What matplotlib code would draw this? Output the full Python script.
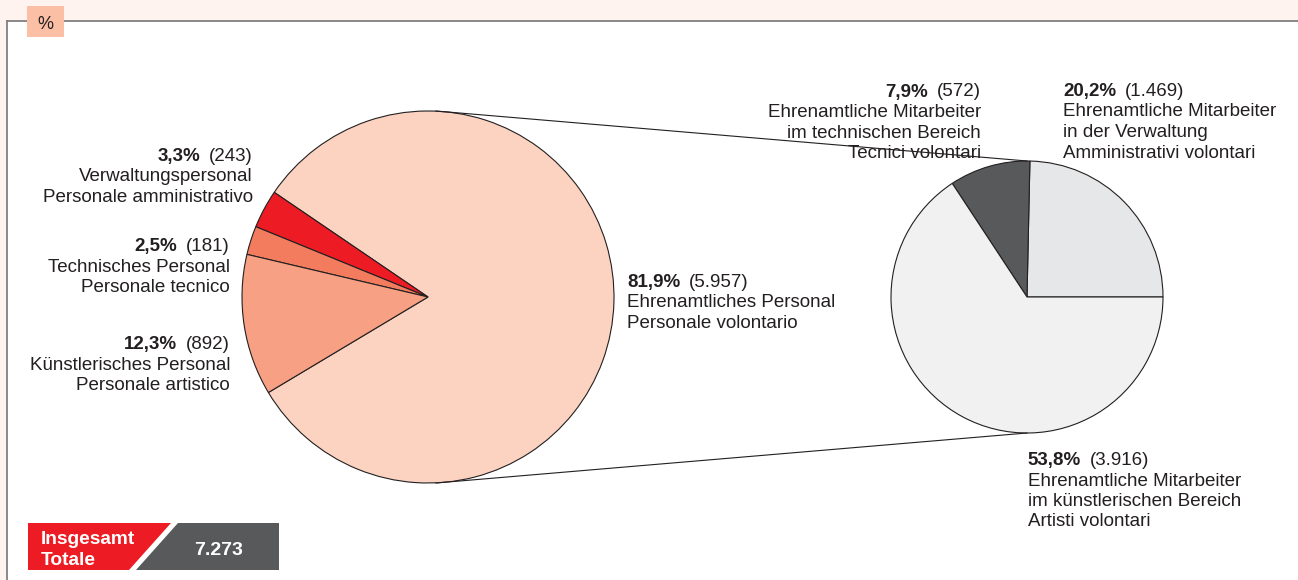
import matplotlib
matplotlib.use("Agg")
import matplotlib.pyplot as plt
from matplotlib.patches import Rectangle, Polygon
from matplotlib.lines import Line2D

plt.rcParams['font.family'] = ['Liberation Sans', 'DejaVu Sans']

# ---------------- data ----------------
staff_categories = ["Ehrenamtliches Personal", "Verwaltungspersonal",
                    "Technisches Personal", "Künstlerisches Personal"]
staff_categories_it = ["Personale volontario", "Personale amministrativo",
                       "Personale tecnico", "Personale artistico"]
staff_counts = [5957, 243, 181, 892]
staff_pct = ["81,9%", "3,3%", "2,5%", "12,3%"]
staff_colors = ["#fcd3c1", "#ed1c24", "#f37b5e", "#f7a083"]

volunteer_categories = ["Ehrenamtliche Mitarbeiter\nin der Verwaltung",
                        "Ehrenamtliche Mitarbeiter\nim technischen Bereich",
                        "Ehrenamtliche Mitarbeiter\nim künstlerischen Bereich"]
volunteer_categories_it = ["Amministrativi volontari", "Tecnici volontari",
                           "Artisti volontari"]
volunteer_counts = [1469, 572, 3916]
volunteer_pct = ["20,2%", "7,9%", "53,8%"]
volunteer_colors = ["#e6e7e8", "#58595b", "#f1f1f2"]

total_label = "Insgesamt\nTotale"
total_value = "7.273"
unit_label = "%"

# ---------------- layout ----------------
W, H = 1298, 580
TXT = "#231f20"
fig = plt.figure(figsize=(W / 100, H / 100), dpi=100, facecolor="white")
ax = fig.add_axes([0, 0, 1, 1])


def Y(p):
    return H - p


def fmt(n):
    return format(n, ",").replace(",", ".")


# background band + frame
BG = "#fef3ee"
ax.add_patch(Rectangle((0, Y(20.5)), W, 20.5, color=BG, zorder=0, lw=0))
ax.add_patch(Rectangle((0, 0), 7, Y(20.5), color=BG, zorder=0, lw=0))
ax.add_line(Line2D([7, W], [Y(20.5), Y(20.5)], color="#808082", lw=1.3, zorder=1))
ax.add_line(Line2D([7, 7], [Y(20.5), 0], color="#808082", lw=1.3, zorder=1))
ax.add_patch(Rectangle((27, Y(37)), 37, 31, color="#fbbfa6", lw=0, zorder=2))
ax.text(45.5, Y(29), unit_label, ha="center", va="baseline", fontsize=13, color=TXT, zorder=3)

# pies
C1, R1 = (428, Y(297)), 186
C2, R2 = (1027, Y(297)), 136
wp = dict(edgecolor=TXT, linewidth=0.8)
ax.pie(staff_counts, colors=staff_colors, startangle=-149.1, counterclock=True,
       center=C1, radius=R1, wedgeprops=wp, frame=True)
ax.pie(volunteer_counts, colors=volunteer_colors, startangle=0, counterclock=True,
       center=C2, radius=R2, wedgeprops=wp, frame=True)
ax.set_aspect("auto")
ax.set_xlim(0, W)
ax.set_ylim(0, H)
ax.axis("off")

# connector lines
ax.add_line(Line2D([C1[0] + 8, C2[0]], [C1[1] + R1, C2[1] + R2], color=TXT, lw=0.8, zorder=5))
ax.add_line(Line2D([C1[0] + 8, C2[0]], [C1[1] - R1, C2[1] - R2], color=TXT, lw=0.8, zorder=5))

FS = 13.5
LS = 20.5


def label(x, base, ha, pct, cnt, lines):
    if ha == "left":
        b = ax.text(x, Y(base), pct, ha="left", va="baseline", fontsize=FS,
                    fontweight="bold", color=TXT, zorder=4)
        ax.annotate("(" + fmt(cnt) + ")", xy=(1, 0), xycoords=b, xytext=(9, 0),
                    textcoords="offset pixels", ha="left", va="bottom",
                    fontsize=FS, color=TXT, zorder=4)
    else:
        r = ax.text(x, Y(base), "(" + fmt(cnt) + ")", ha="right", va="baseline",
                    fontsize=FS, color=TXT, zorder=4)
        ax.annotate(pct, xy=(0, 0), xycoords=r, xytext=(-9, 0),
                    textcoords="offset pixels", ha="right", va="bottom",
                    fontsize=FS, fontweight="bold", color=TXT, zorder=4)
    for i, ln in enumerate(lines):
        ax.text(x, Y(base + LS * (i + 1)), ln, ha=ha, va="baseline",
                fontsize=FS, color=TXT, zorder=4)


label(627, 286.7, "left", staff_pct[0], staff_counts[0],
      [staff_categories[0], staff_categories_it[0]])
label(253, 160.7, "right", staff_pct[1], staff_counts[1],
      [staff_categories[1], staff_categories_it[1]])
label(230, 251, "right", staff_pct[2], staff_counts[2],
      [staff_categories[2], staff_categories_it[2]])
label(230, 349, "right", staff_pct[3], staff_counts[3],
      [staff_categories[3], staff_categories_it[3]])

label(1063, 96, "left", volunteer_pct[0], volunteer_counts[0],
      volunteer_categories[0].split("\n") + [volunteer_categories_it[0]])
label(981, 96.5, "right", volunteer_pct[1], volunteer_counts[1],
      volunteer_categories[1].split("\n") + [volunteer_categories_it[1]])
label(1027.5, 465, "left", volunteer_pct[2], volunteer_counts[2],
      volunteer_categories[2].split("\n") + [volunteer_categories_it[2]])

# total box
ax.add_patch(Polygon([(28, Y(523)), (171, Y(523)), (129, Y(570)), (28, Y(570))],
                     closed=True, color="#ed1c24", lw=0, zorder=2))
ax.add_patch(Polygon([(178, Y(523)), (279, Y(523)), (279, Y(570)), (136, Y(570))],
                     closed=True, color="#58595b", lw=0, zorder=2))
tl = total_label.split("\n")
ax.text(41, Y(544), tl[0], ha="left", va="baseline", fontsize=13.8,
        fontweight="bold", color="white", zorder=3)
ax.text(41, Y(565), tl[1], ha="left", va="baseline", fontsize=13.8,
        fontweight="bold", color="white", zorder=3)
ax.text(219, Y(555), total_value, ha="center", va="baseline", fontsize=14,
        fontweight="bold", color="white", zorder=3)

fig.savefig("out.png", dpi=100, facecolor="white")
